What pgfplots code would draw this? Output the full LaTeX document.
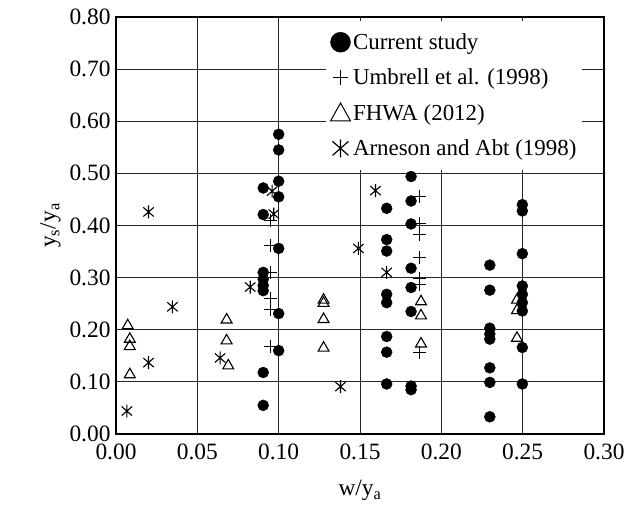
\documentclass[border=0pt]{standalone}
\usepackage{fontspec}
\setmainfont{Liberation Serif}
\usepackage{pgfplots}
\pgfplotsset{compat=1.18}

% Six-armed star: vertical bar with a steep cross
\pgfdeclareplotmark{starbar}{%
  \pgfpathmoveto{\pgfqpoint{0pt}{-\pgfplotmarksize}}%
  \pgfpathlineto{\pgfqpoint{0pt}{\pgfplotmarksize}}%
  \pgfpathmoveto{\pgfqpoint{-0.8\pgfplotmarksize}{-0.7\pgfplotmarksize}}%
  \pgfpathlineto{\pgfqpoint{0.8\pgfplotmarksize}{0.7\pgfplotmarksize}}%
  \pgfpathmoveto{\pgfqpoint{-0.8\pgfplotmarksize}{0.7\pgfplotmarksize}}%
  \pgfpathlineto{\pgfqpoint{0.8\pgfplotmarksize}{-0.7\pgfplotmarksize}}%
  \pgfusepathqstroke}

% Scour depth ratio versus width ratio, four data sources
\pgfplotstableread{
x y
0.0905 0.472
0.0905 0.421
0.0905 0.310
0.0905 0.297
0.0905 0.285
0.0905 0.275
0.0905 0.118
0.0905 0.055
0.100 0.575
0.100 0.545
0.100 0.485
0.100 0.455
0.100 0.356
0.100 0.231
0.100 0.160
0.1664 0.433
0.1664 0.373
0.1664 0.351
0.1664 0.268
0.1664 0.252
0.1664 0.187
0.1664 0.157
0.1664 0.096
0.1814 0.494
0.1814 0.447
0.1814 0.403
0.1814 0.318
0.1814 0.281
0.1814 0.235
0.1814 0.092
0.1814 0.085
0.2298 0.324
0.2298 0.276
0.2298 0.203
0.2298 0.192
0.2298 0.182
0.2298 0.127
0.2298 0.099
0.2298 0.033
0.2498 0.440
0.2498 0.428
0.2498 0.346
0.2498 0.284
0.2498 0.268
0.2498 0.252
0.2498 0.236
0.2498 0.166
0.2498 0.096
}\currentstudy

\pgfplotstableread{
x y
0.095 0.410
0.095 0.361
0.095 0.310
0.095 0.260
0.095 0.238
0.095 0.168
0.1865 0.455
0.1865 0.403
0.1865 0.383
0.1865 0.338
0.1865 0.299
0.1865 0.287
0.1865 0.157
}\umbrell

\pgfplotstableread{
x y
0.0072 0.208
0.0085 0.182
0.0085 0.168
0.0085 0.114
0.068 0.219
0.068 0.179
0.069 0.131
0.1276 0.257
0.1276 0.251
0.1276 0.220
0.1276 0.165
0.1875 0.254
0.1875 0.227
0.1875 0.173
0.2465 0.257
0.2465 0.237
0.2465 0.184
}\fhwa

\pgfplotstableread{
x y
0.0067 0.044
0.020 0.137
0.020 0.426
0.0347 0.244
0.064 0.146
0.0825 0.282
0.096 0.466
0.097 0.422
0.138 0.091
0.149 0.356
0.1595 0.467
0.1664 0.310
}\arneson

\begin{document}
\begin{tikzpicture}
\begin{axis}[
  at={(0,0)}, anchor=south west,
  scale only axis,
  width=488bp, height=417bp,
  xmin=0, xmax=0.30, ymin=0, ymax=0.80,
  xtick={0,0.05,...,0.301},
  ytick={0,0.1,...,0.801},
  /pgf/number format/fixed,
  /pgf/number format/fixed zerofill,
  /pgf/number format/precision=2,
  /pgf/number format/assume math mode=true,
  scaled ticks=false,
  tick label style={font=\fontsize{23.5}{28}\selectfont},
  xticklabel style={yshift=-6bp},
  yticklabel style={xshift=-2bp},
  label style={font=\fontsize{23.5}{28}\selectfont},
  xlabel={w/y\textsubscript{a}},
  ylabel={y\textsubscript{s}/y\textsubscript{a}},
  xlabel style={yshift=-14bp},
  ylabel style={yshift=2bp},
  grid=major,
  major grid style={black!85, line width=0.8bp},
  major tick length=0pt,
  axis line style={line width=1.6bp},
  legend style={
    at={(0.430,0.992)}, anchor=north west,
    draw=none, fill=white,
    font=\fontsize{23}{27}\selectfont,
    row sep=14bp,
    inner xsep=4bp, inner ysep=11bp,
  },
  legend cell align=left,
]
\addplot[only marks, mark=*, mark size=5.5bp, black,
  legend image code/.code={\draw[black, fill=black] (0.3cm,0cm) circle (10bp);}]
  table {\currentstudy};
\addlegendentry{Current study}

\addplot[only marks, mark=+, mark size=6.5bp, black, line width=0.9bp,
  legend image code/.code={\draw[black, line width=1.2bp] (0.3cm-7.5bp,0cm) -- (0.3cm+7.5bp,0cm) (0.3cm,-7.5bp) -- (0.3cm,7.5bp);}]
  table {\umbrell};
\addlegendentry{Umbrell et al. (1998)}

\addplot[only marks, mark=triangle, mark size=6.3bp, black, line width=1.1bp,
  legend image code/.code={\draw[black, line width=1.0bp] (0.3cm-10bp,-8bp) -- (0.3cm+10bp,-8bp) -- (0.3cm,10bp) -- cycle;}]
  table {\fhwa};
\addlegendentry{FHWA (2012)}

\addplot[only marks, mark=starbar, mark size=6.5bp, black, line width=1.1bp,
  legend image code/.code={\draw[black, line width=1.2bp, shift={(0.3cm,0cm)}] (0,-9bp) -- (0,9bp) (-8bp,-7bp) -- (8bp,7bp) (-8bp,7bp) -- (8bp,-7bp);}]
  table {\arneson};
\addlegendentry{Arneson and Abt (1998)}
\end{axis}
\pgfresetboundingbox
\path[use as bounding box] (-116bp,-79bp) rectangle (511bp,434bp);
\end{tikzpicture}
\end{document}
